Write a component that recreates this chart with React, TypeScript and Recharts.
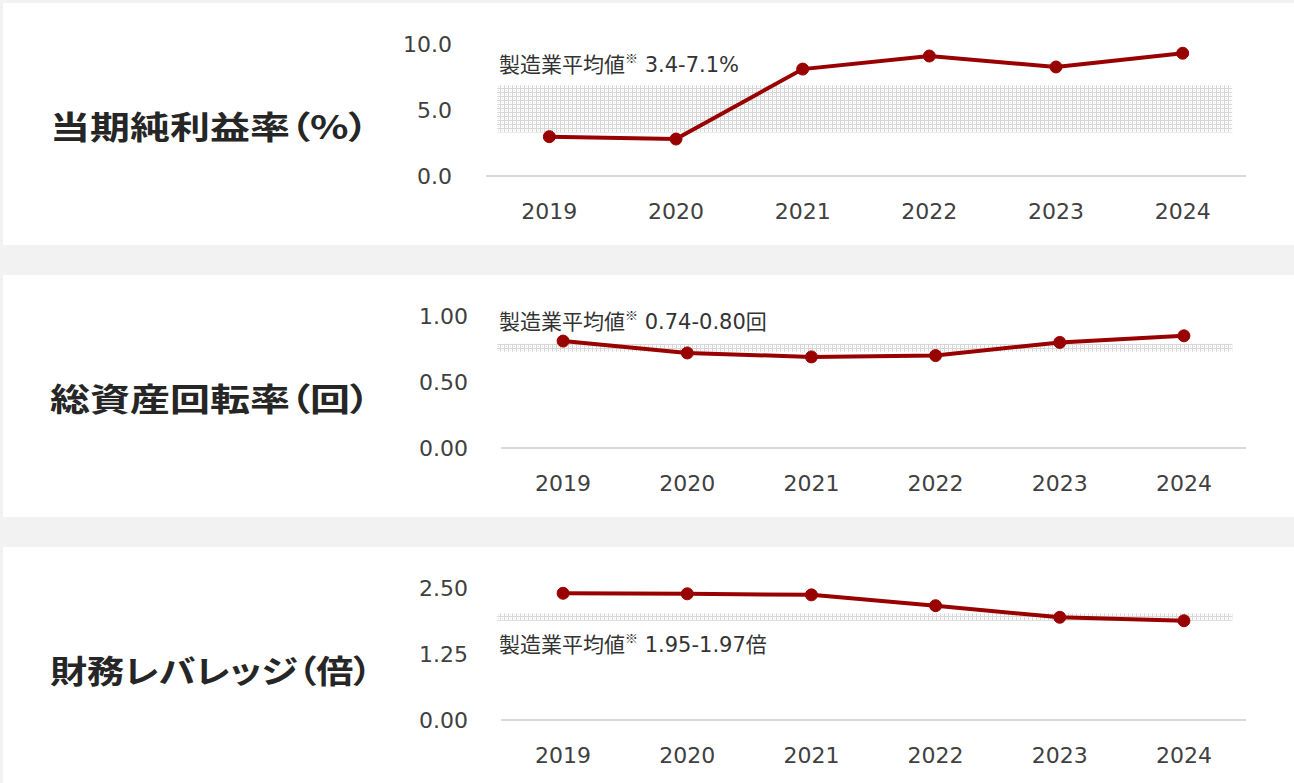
import React from "react";
import {
  LineChart,
  Line,
  XAxis,
  YAxis,
  ReferenceArea,
} from "recharts";

// years on the x axis
const years = ["2019", "2020", "2021", "2022", "2023", "2024"];

// series values
const netMargin = [2.98, 2.8, 8.1, 9.09, 8.26, 9.3];
const assetTurnover = [0.81, 0.72, 0.69, 0.7, 0.8, 0.85];
const leverage = [2.4, 2.39, 2.37, 2.165, 1.945, 1.88];

// manufacturing average bands (low, high) as drawn
const netMarginBand = [3.3, 6.9];
const assetTurnoverBand = [0.73, 0.79];
const leverageBand = [1.88, 2.02];

// horizontal extent of the bands, in category steps from 2019
const netMarginBandSpan = [-0.41, 5.39];
const assetTurnoverBandSpan = [-0.53, 5.39];
const leverageBandSpan = [-0.53, 5.39];

// y axis ticks
const netMarginTicks = [0, 5, 10];
const assetTurnoverTicks = [0, 0.5, 1];
const leverageTicks = [0, 1.25, 2.5];

// titles and notes
const titles = ["当期純利益率（%）", "総資産回転率（回）", "財務レバレッジ（倍）"];
const noteRanges = ["3.4-7.1%", "0.74-0.80回", "1.95-1.97倍"];

const LINE_COLOR = "#990000";
const TICK_FONT = "'DejaVu Sans', 'Noto Sans CJK JP', sans-serif";

interface PanelProps {
  index: number;
  top: number;
  values: number[];
  band: number[];
  bandSpan: number[];
  ticks: number[];
  digits: number;
  plotLeft: number;
  noteY: number;
  titleScale: number;
}

function Panel({ index, top, values, band, bandSpan, ticks, digits, plotLeft, noteY, titleScale }: PanelProps) {
  const data = years.map((year, i) => ({ year, i, value: values[i] }));
  const plotRight = 1246;
  const halfStep = (plotRight - plotLeft) / years.length / 2;
  return (
    <div style={{ position: "absolute", left: 0, top, width: 1294, height: 245 }}>
      <LineChart
        width={1294}
        height={245}
        data={data}
        margin={{ top: 44, right: 1294 - plotRight, bottom: 29, left: plotLeft - 60 }}
      >
        <defs>
          <pattern id={`grid${index}`} width="4" height="4" patternUnits="userSpaceOnUse">
            <rect width="4" height="4" fill="#ffffff" />
            <rect width="4" height="1" fill="#d6d6d6" />
            <rect width="1" height="4" fill="#d6d6d6" />
            <rect x="2" y="2" width="1" height="1" fill="#e2e2e2" />
          </pattern>
        </defs>
        <XAxis
          dataKey="year"
          padding={{ left: halfStep, right: halfStep }}
          axisLine={{ stroke: "#d9d9d9", strokeWidth: 2 }}
          tickLine={false}
          tickSize={0}
          tickMargin={27}
          height={40}
          tick={{ fill: "#404040", fontSize: 22, fontFamily: TICK_FONT }}
        />
        <XAxis
          xAxisId="band"
          dataKey="i"
          type="number"
          domain={[0, years.length - 1]}
          padding={{ left: halfStep, right: halfStep }}
          hide
        />
        <YAxis
          type="number"
          domain={[ticks[0], ticks[ticks.length - 1]]}
          ticks={ticks}
          width={60}
          axisLine={false}
          tickLine={false}
          tickSize={0}
          tickMargin={plotLeft === 486 ? 34 : 33}
          tickFormatter={(v: number) => v.toFixed(digits)}
          tick={{ fill: "#404040", fontSize: 22, fontFamily: TICK_FONT }}
        />
        <ReferenceArea
          xAxisId="band"
          x1={bandSpan[0]}
          x2={bandSpan[1]}
          y1={band[0]}
          y2={band[1]}
          fill={`url(#grid${index})`}
          fillOpacity={1}
          stroke="none"
          ifOverflow="visible"
        />
        <Line
          type="linear"
          dataKey="value"
          stroke={LINE_COLOR}
          strokeWidth={4}
          dot={{ r: 6, fill: LINE_COLOR, stroke: LINE_COLOR, strokeWidth: 1 }}
          isAnimationActive={false}
        />
      </LineChart>
      <svg
        width={1294}
        height={245}
        style={{ position: "absolute", left: 0, top: 0, pointerEvents: "none" }}
      >
        <text x={499} y={noteY} fill="#333333" fontSize={21} fontFamily={TICK_FONT}>
          製造業平均値
          <tspan fontSize={13} dy={-9} fontFamily="'Noto Sans CJK JP', sans-serif">
            ※
          </tspan>
          <tspan dy={9}> {noteRanges[index]}</tspan>
        </text>
      </svg>
      <div
        style={{
          position: "absolute",
          left: 50,
          top: 109,
          fontFamily: "'Noto Sans CJK JP', sans-serif",
          fontWeight: 700,
          fontSize: 32,
          lineHeight: "32px",
          fontFeatureSettings: "'palt'",
          transform: `scaleX(${titleScale})`,
          transformOrigin: "left center",
          color: "#262626",
          whiteSpace: "nowrap",
        }}
      >
        {titles[index]}
      </div>
    </div>
  );
}

export default function App() {
  return (
    <div
      style={{
        position: "absolute",
        left: 0,
        top: 0,
        width: 1294,
        height: 783,
        overflow: "hidden",
        background: "#f2f2f2",
      }}
    >
      {/* white cards */}
      <div style={{ position: "absolute", left: 3, top: 3, width: 1291, height: 242, background: "#fff" }} />
      <div style={{ position: "absolute", left: 3, top: 275, width: 1291, height: 242, background: "#fff" }} />
      <div style={{ position: "absolute", left: 3, top: 547, width: 1291, height: 240, background: "#fff" }} />

      <Panel
        index={0}
        top={0}
        values={netMargin}
        band={netMarginBand}
        bandSpan={netMarginBandSpan}
        ticks={netMarginTicks}
        digits={1}
        plotLeft={486}
        noteY={72}
        titleScale={1.25}
      />
      <Panel
        index={1}
        top={272}
        values={assetTurnover}
        band={assetTurnoverBand}
        bandSpan={assetTurnoverBandSpan}
        ticks={assetTurnoverTicks}
        digits={2}
        plotLeft={501}
        noteY={57}
        titleScale={1.25}
      />
      <Panel
        index={2}
        top={544}
        values={leverage}
        band={leverageBand}
        bandSpan={leverageBandSpan}
        ticks={leverageTicks}
        digits={2}
        plotLeft={501}
        noteY={108}
        titleScale={1.16}
      />
    </div>
  );
}
